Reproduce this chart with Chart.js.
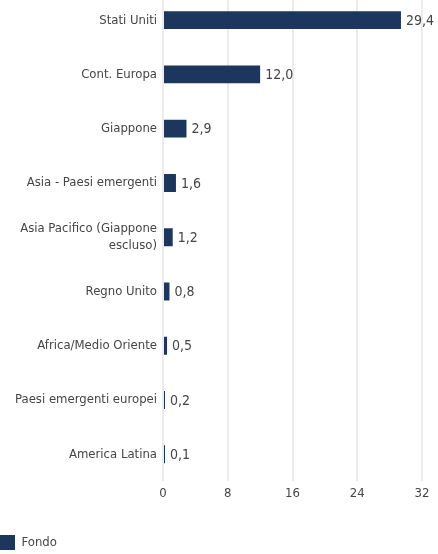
<!DOCTYPE html>
<html>
<head>
<meta charset="utf-8">
<script src="https://cdn.jsdelivr.net/npm/chart.js@4"></script>
<style>
    html, body { margin: 0; padding: 0; background: #fff; overflow: hidden; }
    #wrap { position: relative; width: 438px; height: 561px; margin-top: -7px; }
</style>
</head>
<body>
<div id="wrap"><canvas id="chart"></canvas></div>
<script>
const regions = [
    'Stati Uniti',
    'Cont. Europa',
    'Giappone',
    'Asia - Paesi emergenti',
    ['Asia Pacifico (Giappone', 'escluso)'],
    'Regno Unito',
    'Africa/Medio Oriente',
    'Paesi emergenti europei',
    'America Latina'
];
const fondoValues = [29.4, 12.0, 2.9, 1.6, 1.2, 0.8, 0.5, 0.2, 0.1];
const xTicks = [0, 8, 16, 24, 32];

const FONT = "'DejaVu Sans Condensed', sans-serif";
const TEXT = '#454545';
const NAVY = '#1c365e';

// value labels at the end of each bar, Italian decimal comma
const valueLabels = {
    id: 'valueLabels',
    afterDatasetsDraw(chart) {
        const ctx = chart.ctx;
        const meta = chart.getDatasetMeta(0);
        ctx.save();
        ctx.font = '14px ' + FONT;
        ctx.fillStyle = TEXT;
        ctx.textAlign = 'left';
        ctx.textBaseline = 'middle';
        meta.data.forEach((bar, i) => {
            ctx.fillText(fondoValues[i].toFixed(1).replace('.', ','), bar.x + 5, bar.y + 1);
        });
        ctx.restore();
    }
};

// legend sits flush with the bottom-left corner
const legendShift = {
    id: 'legendShift',
    afterLayout(chart) {
        const lg = chart.legend;
        lg.left -= 4;
        lg.right -= 4;
        lg.top += 6;
        lg.bottom += 6;
    }
};

new Chart(document.getElementById('chart'), {
    type: 'bar',
    data: {
        labels: regions,
        datasets: [{
            label: 'Fondo',
            data: fondoValues,
            backgroundColor: NAVY,
            barPercentage: 0.66,
            categoryPercentage: 0.5,
            minBarLength: 2
        }]
    },
    options: {
        indexAxis: 'y',
        responsive: true,
        maintainAspectRatio: false,
        animation: false,
        layout: {padding: {left: 0, right: 16, top: 0, bottom: 0}},
        scales: {
            x: {
                min: 0,
                max: 32,
                afterBuildTicks: axis => { axis.ticks = xTicks.map(v => ({value: v})); },
                afterFit: scale => { scale.height += 20; },
                grid: {color: '#ececec', lineWidth: 2, drawTicks: false},
                border: {display: false},
                ticks: {color: TEXT, font: {family: FONT, size: 13}, padding: 4}
            },
            y: {
                grid: {display: false, drawTicks: false},
                border: {display: false},
                afterFit: scale => {
                    scale.width = 163;
                    scale.paddingTop = 0;
                    scale.paddingBottom = 0;
                },
                ticks: {color: TEXT, font: {family: FONT, size: 13, lineHeight: 1.35}, padding: 6}
            }
        },
        plugins: {
            legend: {
                position: 'bottom',
                align: 'start',
                labels: {
                    color: TEXT,
                    font: {family: FONT, size: 13},
                    boxWidth: 15,
                    boxHeight: 15,
                    padding: 4
                }
            },
            tooltip: {enabled: false}
        }
    },
    plugins: [valueLabels, legendShift]
});
</script>
</body>
</html>
